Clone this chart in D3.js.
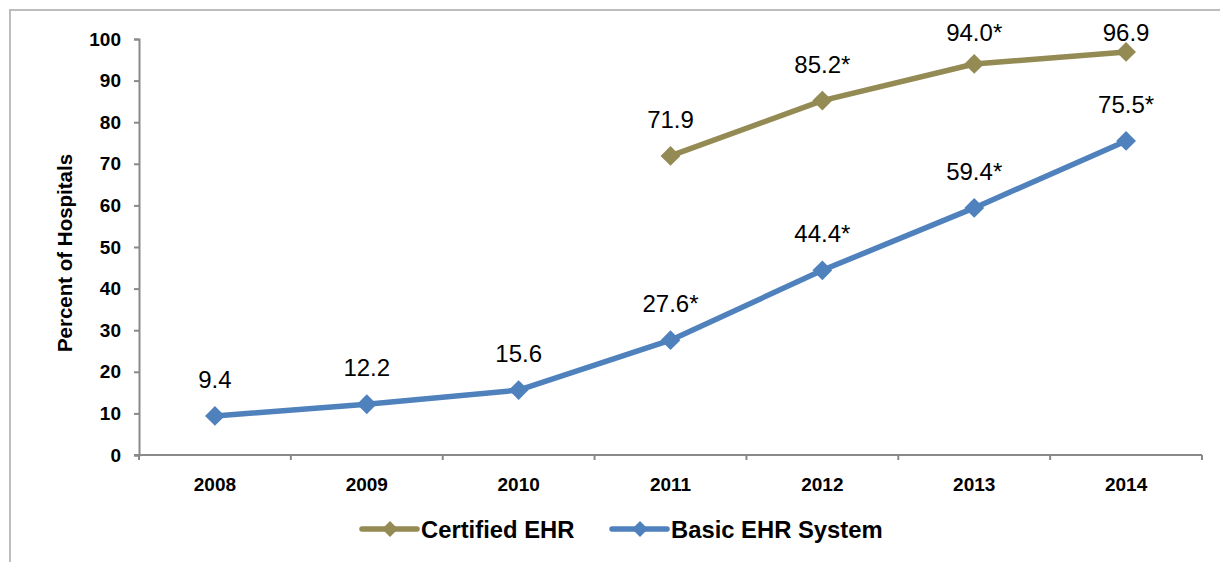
<!DOCTYPE html>
<html>
<head>
<meta charset="utf-8">
<script src="https://cdn.jsdelivr.net/npm/d3@7"></script>
<style>
  html, body { margin: 0; padding: 0; background: #fff; overflow: hidden; }
  text { font-family: "Liberation Sans", Arial, sans-serif; }
</style>
</head>
<body>
<div class="canvas"></div>
<script>
const years = ["2008", "2009", "2010", "2011", "2012", "2013", "2014"];
const certified = [null, null, null, 71.9, 85.2, 94.0, 96.9];
const certifiedLabels = ["", "", "", "71.9", "85.2*", "94.0*", "96.9"];
const basic = [9.4, 12.2, 15.6, 27.6, 44.4, 59.4, 75.5];
const basicLabels = ["9.4", "12.2", "15.6", "27.6*", "44.4*", "59.4*", "75.5*"];
const yTicks = [0, 10, 20, 30, 40, 50, 60, 70, 80, 90, 100];

const w = 1220;
const h = 562;
const plotL = 139, plotR = 1202, plotT = 39, plotB = 455;
const axisColor = "#898989";

const svg = d3.select(".canvas").append("svg")
  .attr("width", w)
  .attr("height", h);

// outer chart frame (runs past the right and bottom edge)
svg.append("rect")
  .attr("x", 10).attr("y", 10)
  .attr("width", 1400).attr("height", 800)
  .attr("fill", "none")
  .attr("stroke", "#bdbdbd")
  .attr("stroke-width", 2);

const x = d3.scaleBand(years, [plotL, plotR]);
const y = d3.scaleLinear([0, 100], [plotB, plotT]);

// y axis
const yAxis = svg.append("g")
  .attr("transform", `translate(${plotL},0)`)
  .call(d3.axisLeft(y).tickValues(yTicks).tickSize(5).tickPadding(13));
yAxis.select(".domain").attr("stroke", axisColor).attr("stroke-width", 2);
yAxis.selectAll(".tick line").attr("stroke", axisColor).attr("stroke-width", 2);
yAxis.selectAll("text")
  .attr("font-size", 19).attr("font-weight", "bold").attr("fill", "#000")
  .attr("font-family", "Liberation Sans, Arial, sans-serif");

// x axis, ticks sit between categories
const xAxis = svg.append("g")
  .attr("transform", `translate(0,${plotB})`)
  .call(d3.axisBottom(x).tickSize(0).tickPadding(23));
xAxis.select(".domain").attr("stroke", axisColor).attr("stroke-width", 2)
  .attr("d", `M${plotL - 5},0H${plotR}`);
xAxis.selectAll("text")
  .attr("font-size", 19).attr("font-weight", "bold").attr("fill", "#000")
  .attr("font-family", "Liberation Sans, Arial, sans-serif");
svg.append("g").selectAll("line")
  .data(years.map(d => x(d)).concat([plotR]))
  .join("line")
  .attr("x1", d => d).attr("x2", d => d)
  .attr("y1", plotB).attr("y2", plotB + 5)
  .attr("stroke", axisColor).attr("stroke-width", 2);

// y title
svg.append("text")
  .attr("transform", `translate(72,253) rotate(-90)`)
  .attr("text-anchor", "middle")
  .attr("font-family", "Noto Sans, sans-serif")
  .attr("font-weight", "bold")
  .attr("font-size", 20.5)
  .text("Percent of Hospitals");

const cx = d => x(d) + x.bandwidth() / 2;
const diamond = d3.symbol().type(d3.symbolDiamond2).size(250);

const series = [
  { name: "Certified EHR", values: certified, labels: certifiedLabels, color: "#948a54" },
  { name: "Basic EHR System", values: basic, labels: basicLabels, color: "#4f81bd" }
];

series.forEach(s => {
  const pts = years.map((yr, i) => ({ yr, v: s.values[i], label: s.labels[i] }))
    .filter(d => d.v !== null);
  const line = d3.line().x(d => cx(d.yr)).y(d => y(d.v));
  svg.append("path")
    .attr("d", line(pts))
    .attr("fill", "none")
    .attr("stroke", s.color)
    .attr("stroke-width", 5.5)
    .attr("stroke-linejoin", "round");
  svg.append("g").selectAll("path")
    .data(pts)
    .join("path")
    .attr("d", diamond)
    .attr("transform", d => `translate(${cx(d.yr)},${y(d.v)})`)
    .attr("fill", s.color);
  svg.append("g").selectAll("text")
    .data(pts)
    .join("text")
    .attr("x", d => cx(d.yr))
    .attr("y", d => Math.max(y(d.v) - 28, 41))
    .attr("text-anchor", "middle")
    .attr("font-size", 24)
    .attr("fill", "#000")
    .text(d => d.label);
});

// legend
const legendX = [362, 612];
series.forEach((s, i) => {
  const g = svg.append("g").attr("transform", `translate(${legendX[i]},529)`);
  g.append("line")
    .attr("x1", 0).attr("x2", 55)
    .attr("stroke", s.color).attr("stroke-width", 5.5)
    .attr("stroke-linecap", "round");
  g.append("path")
    .attr("d", d3.symbol().type(d3.symbolDiamond2).size(160)())
    .attr("transform", "translate(28,0)")
    .attr("fill", s.color);
  g.append("text")
    .attr("x", 59).attr("y", 8.5)
    .attr("font-size", 23.8)
    .attr("font-weight", "bold")
    .text(s.name);
});
</script>
</body>
</html>
